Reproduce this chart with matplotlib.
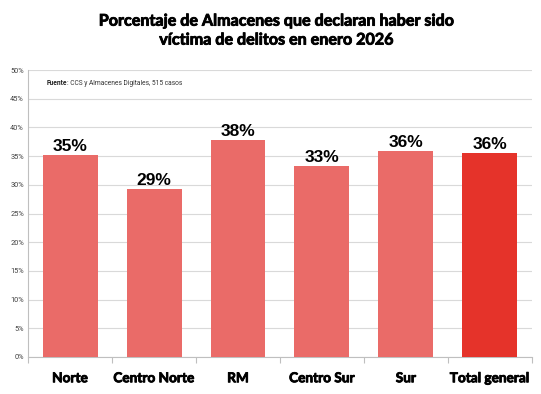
import matplotlib
matplotlib.use("Agg")
import matplotlib.pyplot as plt
import matplotlib.patheffects as pe
import numpy as np

categories = ["Norte", "Centro Norte", "RM", "Centro Sur", "Sur", "Total general"]
values = [35.2, 29.3, 37.9, 33.3, 35.9, 35.6]
labels = ["35%", "29%", "38%", "33%", "36%", "36%"]
bar_colors = ["#EA6B68"] * 5 + ["#E5332A"]

fig = plt.figure(figsize=(5.41, 3.94), dpi=100)
ax = fig.add_axes([0.052, 0.094, 0.931, 0.728])

x = np.arange(len(categories))
ax.bar(x, values, width=0.655, color=bar_colors, zorder=3)
for xi, v, lab in zip(x, values, labels):
    ax.text(xi, v + 0.15, lab, ha="center", va="bottom", fontsize=12.5,
            fontweight="bold", family="Liberation Sans", color="black")

ax.set_xlim(-0.5, len(categories) - 0.5)
ax.set_ylim(0, 50)
yt = np.arange(0, 51, 5)
ax.set_yticks(yt)
ax.set_yticklabels([f"{t}%" for t in yt], fontsize=5.3, family="Roboto", color="#404040")
ax.yaxis.grid(True, color="#D9D9D9", linewidth=0.8, zorder=0)
ax.tick_params(axis="y", length=0, pad=3)

thick = [pe.withStroke(linewidth=0.6, foreground="black")]
ax.set_xticks(x)
ax.set_xticklabels(categories, fontsize=9.8, fontweight="bold", family="Lato")
for lbl in ax.get_xticklabels():
    lbl.set_path_effects(thick)
ax.tick_params(axis="x", length=0, pad=11)
ax.set_xticks(np.arange(-0.5, len(categories), 1), minor=True)
ax.tick_params(axis="x", which="minor", length=4, color="#BFBFBF", width=0.8)

for s in ["top", "right"]:
    ax.spines[s].set_visible(False)
ax.spines["left"].set_color("#BFBFBF")
ax.spines["bottom"].set_color("#BFBFBF")

t1 = ax.text(0.036, 0.955, "Fuente", transform=ax.transAxes, fontsize=4.8,
             fontweight="bold", family="Roboto", color="#222222",
             ha="left", va="center")
ax.annotate(": CCS y Almacenes Digitales, 515 casos", xy=(1, 0.5), xycoords=t1,
            fontsize=4.8, family="Roboto", color="#333333", ha="left", va="center")

fig.text(0.511, 0.921, "Porcentaje de Almacenes que declaran haber sido\nvíctima de delitos en enero 2026",
         ha="center", va="center", fontsize=11.6, fontweight="bold", family="Lato",
         linespacing=1.45, path_effects=[pe.withStroke(linewidth=0.6, foreground="black")])

fig.savefig("out.png", dpi=100)
